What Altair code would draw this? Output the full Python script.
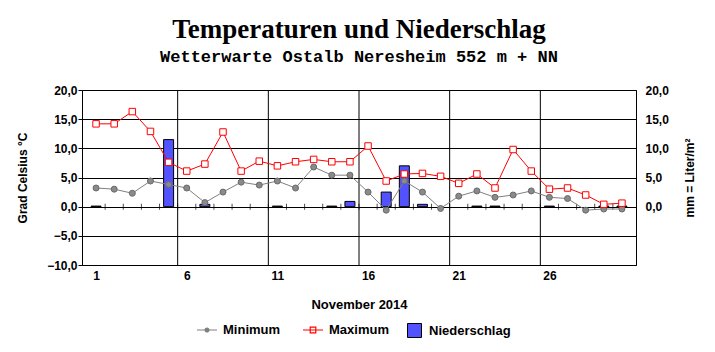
import altair as alt
import pandas as pd

# ---- data ----
days = list(range(1, 31))
tmax = [14.2, 14.2, 16.3, 12.9, 7.6, 6.1, 7.3, 12.8, 6.1, 7.8,
        7.0, 7.7, 8.1, 7.7, 7.7, 10.4, 4.4, 5.6, 5.7, 5.2,
        4.0, 5.6, 3.2, 9.8, 6.1, 3.0, 3.2, 2.0, 0.4, 0.6]
tmin = [3.2, 3.0, 2.3, 4.4, 3.8, 3.2, 0.7, 2.5, 4.2, 3.7,
        4.4, 3.2, 6.8, 5.4, 5.4, 2.5, -0.6, 4.4, 2.5, -0.3,
        1.8, 2.7, 1.6, 2.0, 2.7, 1.6, 1.4, -0.6, -0.4, -0.4]
precip = [0.1, 0, 0, 0, 11.5, 0, 0.4, 0, 0, 0,
          0.1, 0, 0, 0.1, 0.9, 0, 2.5, 7.0, 0.4, 0,
          0, 0.1, 0.1, 0, 0, 0.1, 0, 0, 0.1, 0.1]
x_labels = [1, 6, 11, 16, 21, 26]
y_ticks = [-10, -5, 0, 5, 10, 15, 20]
y2_ticks = [0, 5, 10, 15, 20]
series = ["Minimum", "Maximum", "Niederschlag"]

vgrid = [d - 0.5 for d in x_labels[1:]]
zero_ticks = [d + 0.5 for d in days[:-1]]

df = pd.DataFrame({"Tag": days, "Minimum": tmin, "Maximum": tmax,
                   "Niederschlag": precip})
df_vgrid = pd.DataFrame({"x": vgrid})
df_ticks = pd.DataFrame({"x": zero_ticks})

FONT = "Liberation Sans"
GRAY = "#808080"
RED = "#ff0000"
BLUE = "#5252ff"

lbl = "replace(format(datum.value, '.1f'), '.', ',')"

xscale = alt.Scale(domain=[0.5, 30.5], nice=False, zero=False)
xaxis = alt.Axis(values=x_labels, title="November 2014", tickSize=0,
                 domain=False, grid=False, labelPadding=5, titlePadding=17,
                 labelFontSize=12, titleFontSize=13, labelFlush=False)
yscale = alt.Scale(domain=[-10, 20], nice=False, zero=False)
yaxis = alt.Axis(values=y_ticks, title="Grad Celsius °C", labelExpr=lbl,
                 grid=True, gridColor="black", gridOpacity=1, domain=False,
                 tickSize=4, tickColor="black", labelPadding=1,
                 titlePadding=17, labelFontSize=12, titleFontSize=12)

def X(field="Tag"):
    return alt.X(f"{field}:Q", scale=xscale, axis=xaxis)

base = alt.Chart(df)

vlines = alt.Chart(df_vgrid).mark_rule(color="black", strokeWidth=1).encode(x=X("x"))

zt = alt.Chart(df_ticks).mark_tick(orient="vertical", size=6, thickness=1,
                                   color="black").encode(
    x=X("x"), y=alt.Y(datum=0, type="quantitative", scale=yscale, axis=yaxis))

min_line = base.mark_line(color=GRAY, strokeWidth=1).encode(
    x=X(), y=alt.Y("Minimum:Q", scale=yscale, axis=yaxis))
max_line = base.mark_line(color=RED, strokeWidth=1).encode(
    x=X(), y=alt.Y("Maximum:Q", scale=yscale, axis=yaxis))
min_pts = base.mark_circle(size=36, fill="#8a8a8a", stroke="#6a6a6a",
                           strokeWidth=1, opacity=1).encode(
    x=X(), y=alt.Y("Minimum:Q", scale=yscale, axis=yaxis))
max_pts = base.mark_square(size=42, filled=True, fill="white", stroke=RED,
                           strokeWidth=1, opacity=1).encode(
    x=X(), y=alt.Y("Maximum:Q", scale=yscale, axis=yaxis))

min_path = ("M-1,-0.05H1V0.05H-1Z "
            "M0.26,0A0.26,0.26 0 1,1 -0.26,0A0.26,0.26 0 1,1 0.26,0Z")
max_path = ("M-1,-0.05H-0.34V0.05H-1Z M0.34,-0.05H1V0.05H0.34Z "
            "M-0.34,-0.34H0.34V0.34H-0.34Z M-0.22,-0.22V0.22H0.22V-0.22Z "
            "M-0.22,-0.05H0.22V0.05H-0.22Z")

leg1 = dict(title=None, orient="none", legendX=115, legendY=230,
            direction="horizontal", symbolOpacity=1, symbolSize=400,
            symbolStrokeWidth=0, labelFontSize=13, labelFontWeight="bold",
            labelFont=FONT, columnPadding=22, labelOffset=6)

legend_layer = base.transform_fold(["Minimum", "Maximum"], as_=["Reihe", "Wert"]).mark_point(
    filled=True, opacity=0).encode(
    x=X(), y=alt.Y("Wert:Q", scale=yscale, axis=yaxis),
    color=alt.Color("Reihe:N", scale=alt.Scale(domain=series[:2], range=[GRAY, RED]),
                    legend=alt.Legend(**leg1)),
    shape=alt.Shape("Reihe:N", scale=alt.Scale(domain=series[:2], range=[min_path, max_path]),
                    legend=alt.Legend(**leg1)),
)

temp = alt.layer(vlines, zt, min_line, max_line, min_pts, max_pts, legend_layer)

bars = base.transform_filter("datum.Niederschlag > 0").transform_calculate(
    Art="'Niederschlag'").mark_bar(size=10, stroke="black", strokeWidth=1).encode(
    x=X(),
    y=alt.Y("Niederschlag:Q", scale=yscale,
            axis=alt.Axis(orient="right", values=y2_ticks, labelExpr=lbl, grid=False,
                          domain=False, ticks=False, labelPadding=9,
                          title="mm = Liter/m²", titleAngle=270, titlePadding=28,
                          labelFontSize=12, titleFontSize=12)),
    y2=alt.Y2(datum=0),
    fill=alt.Fill("Art:N", scale=alt.Scale(domain=["Niederschlag"], range=[BLUE]),
                  legend=alt.Legend(title=None, orient="none", legendX=325, legendY=233,
                                    symbolType="square",
                                    symbolSize=196, symbolStrokeColor="black",
                                    symbolStrokeWidth=1, labelFontSize=13,
                                    labelFontWeight="bold", labelFont=FONT,
                                    labelOffset=7)),
)

chart = alt.layer(bars, temp).resolve_scale(y="independent").properties(
    width=554, height=175,
    autosize=alt.AutoSizeParams(type="none"),
    padding={"left": 82, "top": 90, "right": 79, "bottom": 87},
    title=alt.Title("Temperaturen und Niederschlag",
                    subtitle="Wetterwarte Ostalb Neresheim 552 m + NN",
                    font="Liberation Serif", fontSize=27, fontWeight="bold",
                    color="black", subtitleFont="Liberation Mono",
                    subtitleFontSize=17, subtitleFontWeight="bold",
                    subtitleColor="black", anchor="middle", frame="group",
                    offset=18, subtitlePadding=5),
).configure_view(stroke="black", strokeWidth=1).configure_axis(
    labelFont=FONT, titleFont=FONT, labelFontWeight="bold", titleFontWeight="bold",
    labelColor="black", titleColor="black",
).configure_legend(padding=0)

chart.save("out.html", embed_options={"renderer": "svg", "actions": False})
